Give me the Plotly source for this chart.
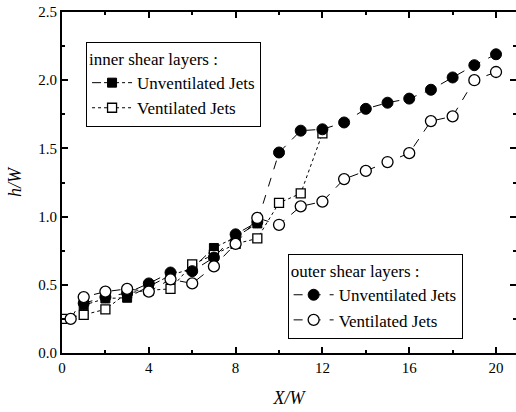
import plotly.graph_objects as go

# inner shear layers
inner_unv_x = [1, 2, 3, 4, 5, 6, 7, 8, 9]
inner_unv_y = [0.35, 0.40, 0.405, 0.49, 0.57, 0.62, 0.77, 0.85, 0.95]
inner_ven_x = [0, 1, 2, 3, 4, 5, 6, 7, 8, 9, 10, 11, 12]
inner_ven_y = [0.25, 0.28, 0.32, 0.44, 0.46, 0.47, 0.65, 0.72, 0.80, 0.84, 1.10, 1.17, 1.61]

# outer shear layers
outer_unv_x = [1, 2, 3, 4, 5, 6, 7, 8, 9, 10, 11, 12, 13, 14, 15, 16, 17, 18, 19, 20]
outer_unv_y = [0.365, 0.41, 0.44, 0.51, 0.59, 0.60, 0.70, 0.87, 0.96, 1.47,
               1.63, 1.64, 1.69, 1.79, 1.835, 1.865, 1.93, 2.02, 2.11, 2.19]
outer_ven_x = [0.4, 1, 2, 3, 4, 5, 6, 7, 8, 9, 10, 11, 12, 13, 14, 15, 16, 17, 18, 19, 20]
outer_ven_y = [0.25, 0.41, 0.45, 0.47, 0.45, 0.54, 0.51, 0.635, 0.80, 0.99, 0.94,
               1.075, 1.11, 1.275, 1.335, 1.40, 1.465, 1.70, 1.735, 2.00, 2.06]

x_ticks = [0, 4, 8, 12, 16, 20]
y_ticks = [0.0, 0.5, 1.0, 1.5, 2.0, 2.5]
y_tick_text = ["0.0", "0.5", "1.0", "1.5", "2.0", "2.5"]

FONT = "Liberation Serif, Times New Roman, serif"

fig = go.Figure()
fig.add_trace(go.Scatter(
    x=inner_unv_x, y=inner_unv_y, mode="lines+markers", name="Unventilated Jets",
    line=dict(color="black", width=1, dash="dashdot"),
    marker=dict(symbol="square", size=9, color="black", line=dict(color="black", width=1)),
    legend="legend"))
fig.add_trace(go.Scatter(
    x=inner_ven_x, y=inner_ven_y, mode="lines+markers", name="Ventilated Jets",
    line=dict(color="black", width=1, dash="dot"),
    marker=dict(symbol="square", size=9, color="white", line=dict(color="black", width=1.3)),
    legend="legend"))
fig.add_trace(go.Scatter(
    x=outer_unv_x, y=outer_unv_y, mode="lines+markers", name="Unventilated Jets",
    line=dict(color="black", width=1, dash="dash"),
    marker=dict(symbol="circle", size=11, color="black", line=dict(color="black", width=1)),
    legend="legend2"))
fig.add_trace(go.Scatter(
    x=outer_ven_x, y=outer_ven_y, mode="lines+markers", name="Ventilated Jets",
    line=dict(color="black", width=1, dash="dash"),
    marker=dict(symbol="circle", size=11, color="white", line=dict(color="black", width=1.3)),
    legend="legend2"))

axis_common = dict(
    showline=True, linecolor="black", linewidth=2, mirror="allticks",
    ticks="inside", ticklen=6, tickwidth=1.5, tickcolor="black",
    showgrid=False, zeroline=False, automargin=False,
    ticklabeloverflow="allow",
    tickfont=dict(family=FONT, size=15, color="black"),
)

fig.update_xaxes(
    range=[0, 20.92], tickvals=x_ticks,
    minor=dict(ticks="inside", ticklen=3, dtick=2, tick0=0, tickcolor="black"),
    title=dict(text="<i>X/W</i>", font=dict(family=FONT, size=18, color="black"), standoff=16),
    **axis_common)
fig.update_yaxes(
    range=[0, 2.5], tickvals=y_ticks, ticktext=y_tick_text,
    minor=dict(ticks="inside", ticklen=3, dtick=0.25, tick0=0, tickcolor="black"),
    title=dict(text="<i>h/W</i>", font=dict(family=FONT, size=18, color="black"), standoff=12),
    **axis_common)

legend_common = dict(
    xanchor="left", yanchor="top",
    bordercolor="black", borderwidth=1, bgcolor="white",
    font=dict(family=FONT, size=17, color="black"),
    tracegroupgap=0, itemwidth=40,
)

fig.update_layout(
    width=516, height=412,
    margin=dict(l=62, r=0, t=12, b=59),
    paper_bgcolor="white", plot_bgcolor="white",
    font=dict(family=FONT, color="black"),
    legend=dict(
        title=dict(text="inner shear layers :", font=dict(family=FONT, size=17)),
        x=0.053, y=0.912, **legend_common),
    legend2=dict(
        title=dict(text="outer shear layers :", font=dict(family=FONT, size=17)),
        x=0.497, y=0.29, **legend_common),
    showlegend=True,
)

fig.write_html("out.html",
               config={"displayModeBar": False},
               post_script="document.body.style.margin='0';document.body.style.overflow='hidden';")
